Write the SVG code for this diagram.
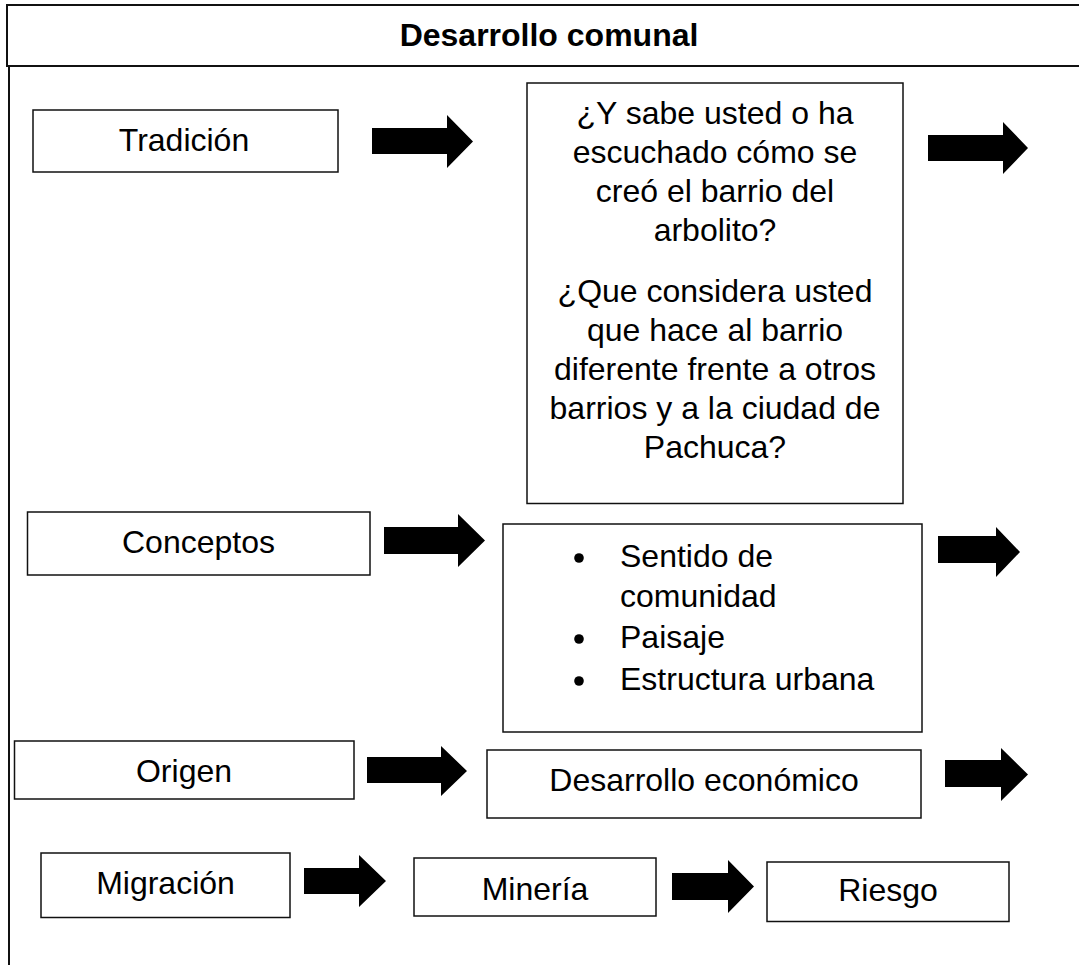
<svg xmlns="http://www.w3.org/2000/svg" width="1079" height="965" viewBox="0 0 1079 965">
<style>
  .box{fill:#fff;stroke:#111;stroke-width:1.5}
  .frame{fill:none;stroke:#111;stroke-width:2}
  .t{font-family:"Liberation Sans",Arial,sans-serif;font-size:32px;fill:#000}
  .c{text-anchor:middle}
  .title{font-weight:bold;font-size:32px}
  .arrow{fill:#000}
  .dot{fill:#000}
</style>
<rect width="1079" height="965" fill="#fff"/>
<g id="frame">
  <path class="frame" d="M1082,5 H7 V66 H1082"/>
  <line class="frame" x1="9" y1="66" x2="9" y2="968"/>
  <text class="t c title" x="549" y="46">Desarrollo comunal</text>
</g>
<g id="tradicion">
  <rect class="box" x="33" y="110" width="305" height="62"/>
  <text class="t c" x="184" y="151">Tradición</text>
</g>
<g id="preguntas">
  <rect class="box" x="527" y="83" width="376" height="420.5"/>
  <text class="t c" x="715" y="124">¿Y sabe usted o ha</text>
  <text class="t c" x="715" y="163">escuchado cómo se</text>
  <text class="t c" x="715" y="202">creó el barrio del</text>
  <text class="t c" x="715" y="241">arbolito?</text>
  <text class="t c" x="715" y="302">¿Que considera usted</text>
  <text class="t c" x="715" y="341">que hace al barrio</text>
  <text class="t c" x="715" y="380">diferente frente a otros</text>
  <text class="t c" x="715" y="419">barrios y a la ciudad de</text>
  <text class="t c" x="715" y="458">Pachuca?</text>
</g>
<g id="conceptos">
  <rect class="box" x="27.5" y="512" width="342.5" height="63"/>
  <text class="t c" x="198.5" y="553">Conceptos</text>
</g>
<g id="lista">
  <rect class="box" x="503" y="524" width="419" height="208"/>
  <circle class="dot" cx="579" cy="558" r="4.8"/>
  <text class="t" x="620" y="567">Sentido de</text>
  <text class="t" x="620" y="607">comunidad</text>
  <circle class="dot" cx="579" cy="639" r="4.8"/>
  <text class="t" x="620" y="648">Paisaje</text>
  <circle class="dot" cx="579" cy="681" r="4.8"/>
  <text class="t" x="620" y="690">Estructura urbana</text>
</g>
<g id="origen">
  <rect class="box" x="14.5" y="741" width="339.5" height="58"/>
  <text class="t c" x="184" y="782">Origen</text>
</g>
<g id="desarrollo-economico">
  <rect class="box" x="487" y="750" width="434" height="68"/>
  <text class="t c" x="704" y="791">Desarrollo económico</text>
</g>
<g id="migracion">
  <rect class="box" x="41" y="853" width="249" height="64.5"/>
  <text class="t c" x="165.5" y="894">Migración</text>
</g>
<g id="mineria">
  <rect class="box" x="414" y="858" width="242" height="58"/>
  <text class="t c" x="535" y="900">Minería</text>
</g>
<g id="riesgo">
  <rect class="box" x="767" y="862" width="242" height="59.5"/>
  <text class="t c" x="888" y="901">Riesgo</text>
</g>
<g id="connectors">
  <polygon class="arrow" points="372,128 447,128 447,115 473,141.5 447,168 447,154 372,154"/>
  <polygon class="arrow" points="928,135 1003,135 1003,122 1028,148 1003,174 1003,161 928,161"/>
  <polygon class="arrow" points="384,527 458,527 458,514 485,540.5 458,567 458,554 384,554"/>
  <polygon class="arrow" points="938,536 996,536 996,527 1020,552 996,577 996,563 938,563"/>
  <polygon class="arrow" points="367,757 441,757 441,746 467,771 441,796 441,783 367,783"/>
  <polygon class="arrow" points="945,760 1001,760 1001,748 1028,774.5 1001,801 1001,787 945,787"/>
  <polygon class="arrow" points="304,868 359,868 359,855 386,881 359,907 359,894 304,894"/>
  <polygon class="arrow" points="672,873 728,873 728,860 754,886.5 728,913 728,900 672,900"/>
</g>
</svg>
